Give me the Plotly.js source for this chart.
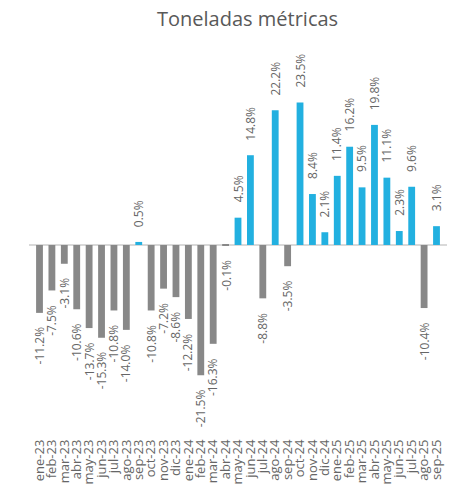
<!DOCTYPE html>
<html>
<head>
<meta charset="utf-8">
<script src="https://cdn.plot.ly/plotly-3.0.1.min.js"></script>
<style>
  html, body { margin: 0; padding: 0; background: #fff; }
  #chart { width: 466px; height: 494px; }
</style>
</head>
<body>
<div id="chart"></div>
<script>
// meses y variación interanual (%)
const meses = [
    'ene-23', 'feb-23', 'mar-23', 'abr-23', 'may-23', 'jun-23', 'jul-23', 'ago-23', 'sep-23',
    'oct-23', 'nov-23', 'dic-23', 'ene-24', 'feb-24', 'mar-24', 'abr-24', 'may-24', 'jun-24',
    'jul-24', 'ago-24', 'sep-24', 'oct-24', 'nov-24', 'dic-24', 'ene-25', 'feb-25', 'mar-25',
    'abr-25', 'may-25', 'jun-25', 'jul-25', 'ago-25', 'sep-25'
];
const variacion = [
    -11.2, -7.5, -3.1, -10.6, -13.7, -15.3, -10.8, -14.0, 0.5,
    -10.8, -7.2, -8.6, -12.2, -21.5, -16.3, -0.1, 4.5, 14.8,
    -8.8, 22.2, -3.5, 23.5, 8.4, 2.1, 11.4, 16.2, 9.5,
    19.8, 11.1, 2.3, 9.6, -10.4, 3.1
];

const azul = '#22b0e0';
const gris = '#888888';
const textoGris = '#666666';

const colores = variacion.map(v => v >= 0 ? azul : gris);

// etiquetas de valor, giradas
const etiquetas = meses.map((m, i) => {
    const v = variacion[i];
    return {
        x: m,
        y: v,
        text: v.toFixed(1) + '%',
        textangle: -90,
        showarrow: false,
        yanchor: v >= 0 ? 'bottom' : 'top',
        yshift: v >= 0 ? 13 : -12,
        font: { family: 'Open Sans', size: 12, color: textoGris }
    };
});

etiquetas.push({
    text: 'Toneladas métricas',
    xref: 'paper', yref: 'paper',
    x: 0.523, y: 1, yshift: 22,
    xanchor: 'center', yanchor: 'middle',
    showarrow: false,
    font: { family: 'Open Sans', size: 20, color: '#595959' }
});

Plotly.newPlot('chart', [{
    x: meses,
    y: variacion,
    type: 'bar',
    marker: { color: colores },
    hoverinfo: 'x+y'
}], {
    width: 466,
    height: 494,
    margin: { l: 29, r: 19, t: 40, b: 58 },
    paper_bgcolor: '#ffffff',
    plot_bgcolor: '#ffffff',
    showlegend: false,
    bargap: 0.45,
    xaxis: {
        type: 'category',
        tickmode: 'array',
        tickvals: meses,
        ticktext: meses,
        tickangle: -90,
        showgrid: false,
        showline: false,
        ticks: '',
        tickfont: { family: 'Open Sans', size: 13, color: textoGris }
    },
    yaxis: {
        range: [-31.5, 33.8],
        showgrid: false,
        showticklabels: false,
        zeroline: true,
        zerolinecolor: '#d9d9d9',
        zerolinewidth: 2
    },
    annotations: etiquetas
}, { displayModeBar: false, responsive: false });
</script>
</body>
</html>
